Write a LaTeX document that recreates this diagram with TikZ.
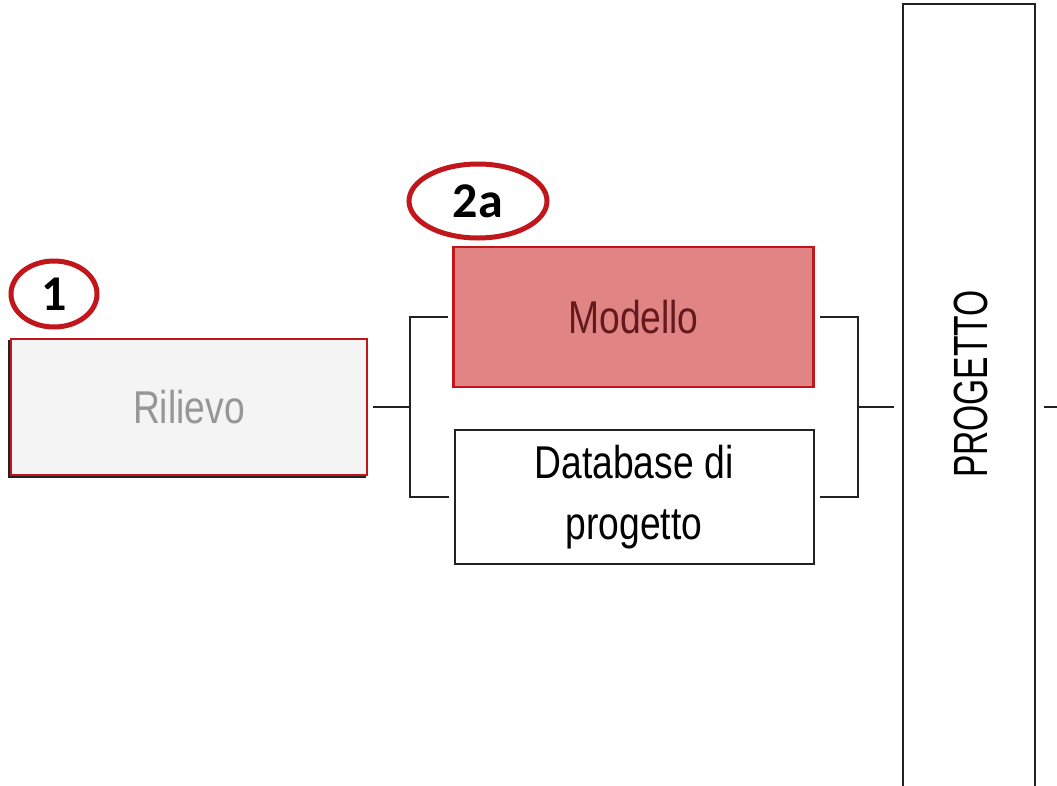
\documentclass[tikz,border=0pt]{standalone}
\usepackage{fontspec}
\setmainfont{Liberation Sans}
\newfontfamily\condfont[FakeStretch=0.81]{Liberation Sans}
\newfontfamily\capsfont[FakeStretch=0.70]{Liberation Sans}
\newfontfamily\tagfont{Carlito}
\usetikzlibrary{shapes.geometric}
\definecolor{tagred}{RGB}{192,22,28}
\definecolor{modfill}{RGB}{224,132,132}
\definecolor{modtext}{RGB}{100,26,28}
\definecolor{rilfill}{RGB}{244,244,244}
\definecolor{riltext}{RGB}{150,150,150}
\definecolor{linegray}{RGB}{34,34,34}
\tikzset{
  box/.style={draw=linegray, line width=2pt, rectangle, inner sep=0pt, outer sep=6pt,
    font=\condfont\fontsize{46}{61}\selectfont, align=center},
  redbox/.style={box, draw=tagred, line width=2.6pt},
  tag/.style={draw=tagred, line width=5pt, ellipse, inner sep=0pt,
    font=\tagfont\bfseries\fontsize{50}{50}\selectfont},
  conn/.style={draw=linegray, line width=2pt},
}
\begin{document}
\begin{tikzpicture}[x=1pt, y=-1pt]
  \useasboundingbox (0,0) rectangle (1057,785);
  \fill[white] (0,0) rectangle (1057,785);

  % shadows under the highlighted boxes
  \draw[linegray, line width=2pt] (9,341) rectangle (365,477);
  \draw[linegray, line width=2pt] (453,251) rectangle (812,386);

  % process boxes
  \node[redbox, fill=rilfill, minimum width=356pt, minimum height=136pt,
        text=riltext] (rilievo) at (189,407) {Rilievo};
  \node[redbox, fill=modfill, minimum width=360pt, minimum height=140pt,
        text=modtext] (modello) at (633.5,317) {Modello};
  \node[box, fill=white, minimum width=359pt, minimum height=134pt,
        text=black] (database) at (634,497) {Database di\\progetto};
  \node[box, fill=white, minimum width=132pt, minimum height=790pt,
        outer sep=9pt] (progetto) at (969,399) {};
  \node[rotate=90, inner sep=0pt, font=\capsfont\fontsize{48}{58}\selectfont]
        (progettotext) at (971,384) {PROGETTO};

  % step tags
  \node[tag, minimum width=86pt, minimum height=66pt] (tag1) at (54,294) {1};
  \node[tag, minimum width=138pt, minimum height=74pt] (tag2a) at (478,201) {2a};

  % connectors
  \coordinate (j1) at (410,407);
  \coordinate (j2) at (858,407);
  \coordinate (tail) at (1057,407);
  \draw[conn] (rilievo.east) -- (j1);
  \draw[conn] (modello.west) -| (j1);
  \draw[conn] (database.west) -| (j1);
  \draw[conn] (modello.east) -| (j2);
  \draw[conn] (database.east) -| (j2);
  \draw[conn] (j2) -- (progetto.west |- j2);
  \draw[conn] (progetto.east |- j2) -- (tail);
\end{tikzpicture}
\end{document}
